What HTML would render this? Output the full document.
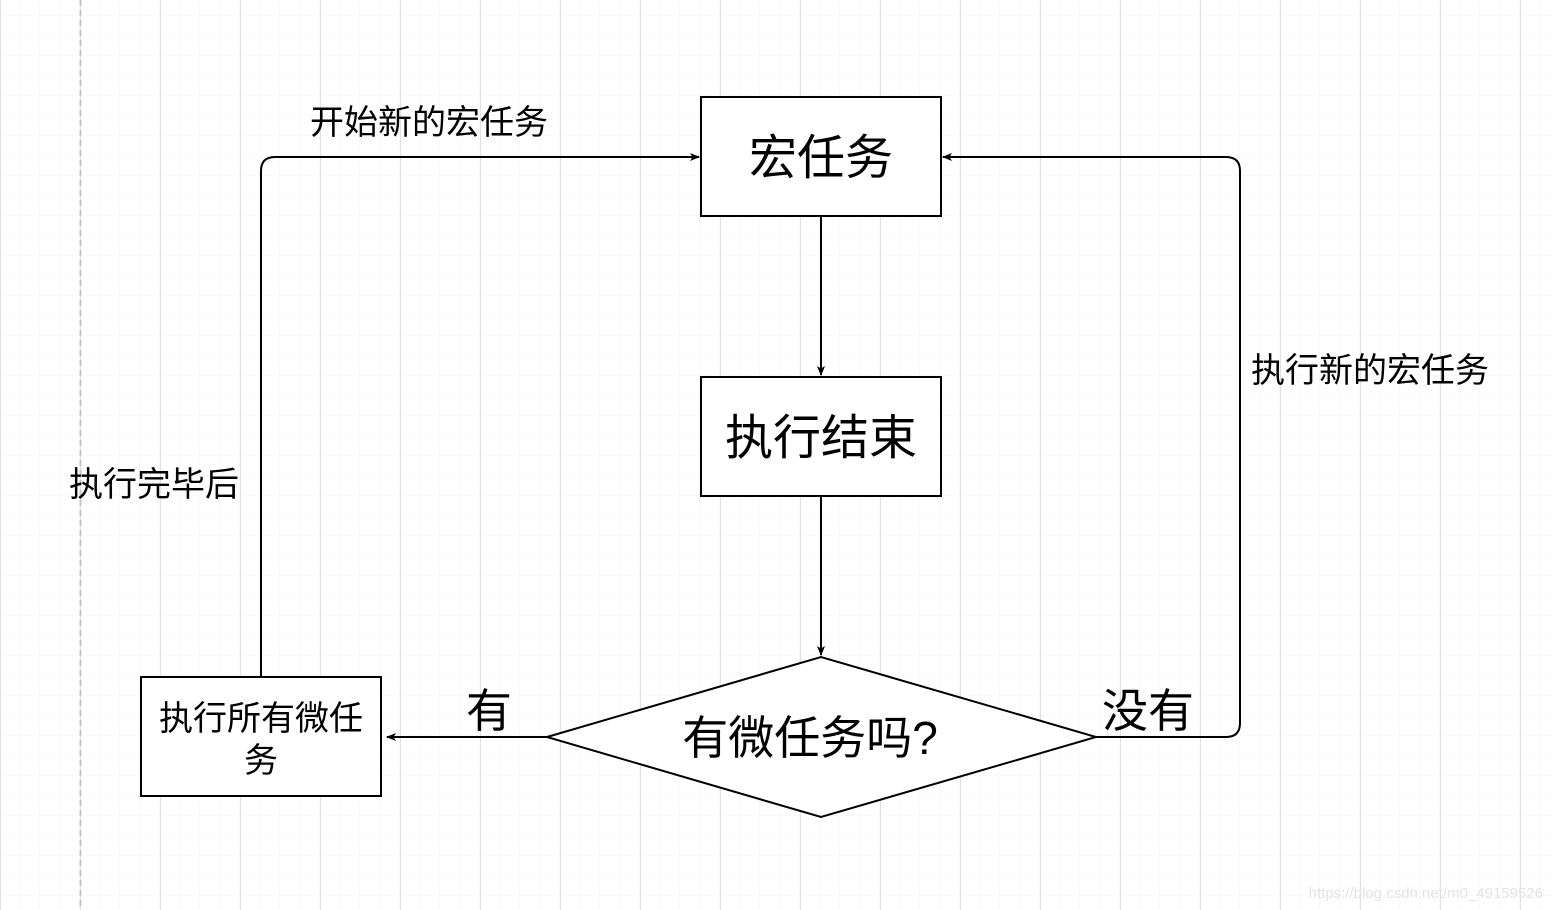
<!DOCTYPE html>
<html><head><meta charset="utf-8"><style>
html,body{margin:0;padding:0;background:#fff;}
svg{display:block;}
text{font-family:"Liberation Sans","Noto Sans CJK SC",sans-serif;fill:#000;}
</style></head><body>
<svg width="1552" height="910" viewBox="0 0 1552 910" xmlns="http://www.w3.org/2000/svg">
<defs>
<pattern id="minor" width="20" height="20" patternUnits="userSpaceOnUse" x="0" y="-4">
<path d="M20 0V20M0 20H20" fill="none" stroke="#f3f3f3" stroke-width="1"/>
</pattern>
<pattern id="major" width="80" height="80" patternUnits="userSpaceOnUse" x="0" y="-4">
<path d="M0.5 0V80M0 80.5H80" fill="none" stroke="#e0e0e0" stroke-width="1"/>
</pattern>
<marker id="ar" viewBox="0 0 20 20" refX="18" refY="10" markerWidth="10" markerHeight="10" markerUnits="userSpaceOnUse" orient="auto">
<path d="M0 2 L20 10 L0 18 L5 10 Z" fill="#000"/>
</marker>
</defs>
<rect width="1552" height="910" fill="url(#minor)"/>
<rect width="1552" height="910" fill="url(#major)"/>
<line x1="80.5" y1="0" x2="80.5" y2="910" stroke="#c4c4c4" stroke-width="2" stroke-dasharray="6,4"/>

<g fill="#fff" stroke="#000" stroke-width="2">
<rect x="701" y="97" width="240" height="119"/>
<rect x="701" y="377" width="240" height="119"/>
<rect x="141" y="677" width="240" height="119"/>
<polygon points="547,737 821,657 1096,737 821,817"/>
</g>

<g fill="none" stroke="#000" stroke-width="2">
<line x1="821" y1="216" x2="821" y2="375" marker-end="url(#ar)"/>
<line x1="821" y1="496" x2="821" y2="655" marker-end="url(#ar)"/>
<line x1="547" y1="737" x2="387" y2="737" marker-end="url(#ar)"/>
<path d="M1096 737 H1226 Q1240 737 1240 723 V171 Q1240 157 1226 157 H943" marker-end="url(#ar)"/>
<path d="M261 677 V171 Q261 157 275 157 H699" marker-end="url(#ar)"/>
</g>

<g text-anchor="middle">
<text x="821" y="174" font-size="48">宏任务</text>
<text x="821" y="454" font-size="48">执行结束</text>
<text x="810" y="754" font-size="46">有微任务吗?</text>
<text x="261" y="730" font-size="34">执行所有微任</text>
<text x="261" y="772" font-size="34">务</text>
<text x="429" y="134" font-size="34">开始新的宏任务</text>
<text x="154" y="496" font-size="34">执行完毕后</text>
<text x="1370" y="382" font-size="34">执行新的宏任务</text>
<text x="489" y="727" font-size="46">有</text>
<text x="1148" y="727" font-size="46">没有</text>
</g>
<text x="1543" y="898" font-size="15" text-anchor="end" style="fill:#e4e4e4">https://blog.csdn.net/m0_49159526</text>
</svg>
</body></html>
